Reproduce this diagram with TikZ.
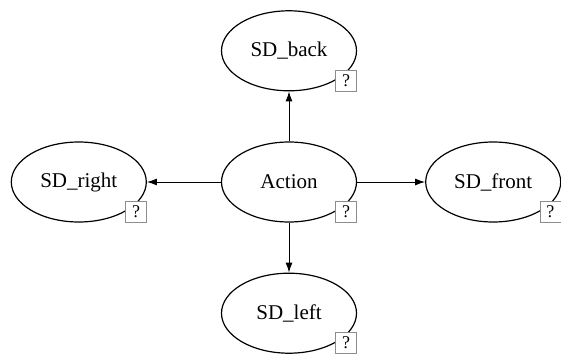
\documentclass[tikz,border=0pt]{standalone}
\usepackage{fontspec}
\setmainfont{Liberation Serif}
\usepackage{tikz}
\usetikzlibrary{positioning}
\usetikzlibrary{shapes.geometric}
\usetikzlibrary{arrows.meta}

\begin{document}
\begin{tikzpicture}[
            x=0.5pt, y=-0.5pt,
            node distance=25pt and 36pt,
            state/.style={
                ellipse,
                draw=black,
                line width=0.6pt,
                minimum width=67.5pt,
                minimum height=40pt,
                inner sep=0pt,
                font=\fontsize{10.5}{12}\selectfont
            },
            qbox/.style={
                rectangle,
                draw=black!45,
                fill=white,
                line width=0.4pt,
                minimum size=10.5pt,
                inner sep=0pt,
                anchor=south east,
                font=\fontsize{9}{10}\selectfont
            },
            link/.style={-{Latex[length=5pt,width=3.5pt]}, line width=0.5pt}
        ]
            \useasboundingbox (0,0) rectangle (561,358);

            % Nodes
            \node[state] (action) at (289,182) {Action};
            \node[state, above=of action] (back) {SD\_back};
            \node[state, below=of action] (left) {SD\_left};
            \node[state, left=37pt of action] (right) {SD\_right};
            \node[state, right=34pt of action] (front) {SD\_front};

            % Question marks
            \node[qbox] (actionq) at (action.east |- action.south) {?};
            \node[qbox] (backq) at (back.east |- back.south) {?};
            \node[qbox] (leftq) at (left.east |- left.south) {?};
            \node[qbox] (rightq) at (right.east |- right.south) {?};
            \node[qbox] (frontq) at (front.east |- front.south) {?};

            % Arrows
            \draw[link] (action) -- (back);
            \draw[link] (action) -- (left);
            \draw[link] (action) -- (right);
            \draw[link] (action) -- (front);
        \end{tikzpicture}
\end{document}
